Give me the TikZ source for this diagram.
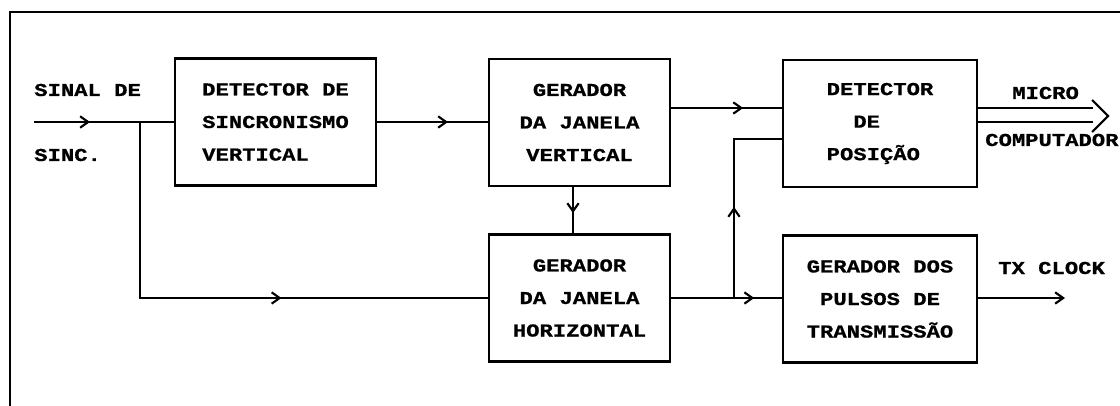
\documentclass[tikz,border=0pt]{standalone}
\usepackage{fontspec}
\newfontfamily\printfont[FakeStretch=1.22, BoldFeatures={FakeBold=0.8}]{Liberation Mono}
\usetikzlibrary{arrows.meta,decorations.markings}

\newdimen\pxu
\pxu=0.75pt
\newcommand{\printtext}{\printfont\bfseries\fontsize{13.65}{24.4}\selectfont}

\begin{document}
\begin{tikzpicture}[x=0.75pt, y=-0.75pt,
    wire/.style={line width=1.6pt},
    blockbox/.style={draw, line width=1.6pt, minimum width=#1, minimum height=127\pxu,
        inner sep=0pt, font=\printtext},
    sigtext/.style={anchor=base west, inner sep=0pt, font=\printtext},
    midarrow/.style={postaction={decorate}, decoration={markings,
        mark=at position #1 with {\arrow{Straight Barb[length=6pt, width=8.5pt]}}}}]

    \useasboundingbox (0,0) rectangle (1120,406);

    % --- frame ---
    \draw[wire] (10,406) -- (10,12) -- (1120,12);

    % --- blocks ---
    \node[blockbox=201\pxu, align=left] (sincdet) at (275.5,122) {DETECTOR DE\\SINCRONISMO\\VERTICAL};
    \node[blockbox=181\pxu, align=center] (janv) at (579.5,122.5) {GERADOR\\DA JANELA\\VERTICAL};
    \node[blockbox=194\pxu, align=left] (posdet) at (880,123.5) {DETECTOR\\\phantom{DE}DE\\POSIÇÃO};
    \node[blockbox=181\pxu, align=center] (janh) at (579.5,298) {GERADOR\\DA JANELA\\HORIZONTAL};
    \node[blockbox=194\pxu, align=center] (pulsos) at (880,299) {GERADOR DOS\\PULSOS DE\\TRANSMISSÃO};

    % --- signal names ---
    \node[sigtext] (sinal) at (34,96) {SINAL DE};
    \node[sigtext] (sinc) at (34,161) {SINC.};
    \node[sigtext] (micro) at (1012,99) {MICRO};
    \node[sigtext] (comput) at (985,146) {COMPUTADOR};
    \node[sigtext] (txclock) at (998,274) {TX CLOCK};

    % --- connections ---
    \coordinate (sinin) at (34,122);
    \coordinate (tap) at (140,122);
    \coordinate (junc) at (734,298);
    \coordinate (txout) at (1065,298);
    \coordinate (microa) at (1093,108);
    \coordinate (microb) at (1093,122);

    \draw[wire, midarrow=0.40] (sinin) -- (sincdet.west |- sinin);
    \draw[wire, midarrow=0.64] (sincdet.east) -- (janv.west |- sincdet.east);
    \draw[wire, midarrow=0.606] (tap) |- (janh.west);
    \draw[wire, midarrow=0.65] (janv.east |- 0,108) -- (posdet.west |- 0,108);
    \draw[wire, midarrow=0.56] (janv.south -| 573,0) -- (janh.north -| 573,0);
    \draw[wire, midarrow=0.75] (janh.east) -- (pulsos.west |- janh.east);
    \draw[wire, midarrow=0.44] (junc) |- (posdet.west |- 0,139);
    \draw[wire, -{Straight Barb[length=6pt, width=8.5pt]}] (pulsos.east |- txout) -- (txout);

    % --- bus to micro ---
    \draw[wire] (posdet.east |- microa) -- (microa);
    \draw[wire] (posdet.east |- microb) -- (microb);
    \draw[wire] (1092,100) -- (1108,116) -- (1092,132);

\end{tikzpicture}
\end{document}
